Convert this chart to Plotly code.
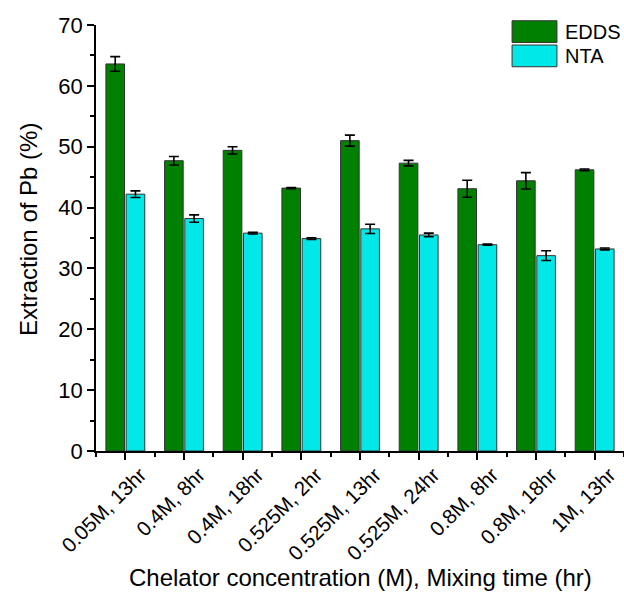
import plotly.graph_objects as go

categories = ["0.05M, 13hr", "0.4M, 8hr", "0.4M, 18hr", "0.525M, 2hr", "0.525M, 13hr",
              "0.525M, 24hr", "0.8M, 8hr", "0.8M, 18hr", "1M, 13hr"]
edds = [63.6, 47.7, 49.4, 43.2, 51.0, 47.3, 43.1, 44.4, 46.2]
edds_err = [1.2, 0.7, 0.6, 0.1, 0.9, 0.45, 1.4, 1.35, 0.15]
nta = [42.2, 38.2, 35.8, 34.9, 36.5, 35.5, 33.9, 32.1, 33.2]
nta_err = [0.55, 0.6, 0.15, 0.15, 0.75, 0.3, 0.1, 0.8, 0.15]
y_ticks = [0, 10, 20, 30, 40, 50, 60, 70]

idx = list(range(len(categories)))
FONT = "Liberation Sans, Arial, sans-serif"
GREEN = "#008000"
CYAN = "#00E8E8"

fig = go.Figure()
fig.add_trace(go.Bar(
    x=idx, y=edds, name="EDDS", marker=dict(color=GREEN, line=dict(color="#333333", width=1)),
    error_y=dict(type="data", array=edds_err, visible=True, color="black", thickness=1.6, width=5),
    showlegend=False))
fig.add_trace(go.Bar(
    x=idx, y=nta, name="NTA", marker=dict(color=CYAN, line=dict(color="#333333", width=1)),
    error_y=dict(type="data", array=nta_err, visible=True, color="black", thickness=1.6, width=5),
    showlegend=False))

# legend drawn as swatches + text
legend_items = [("EDDS", GREEN, 1.010, 0.959), ("NTA", CYAN, 0.953, 0.902)]
for name, col, y1, y0 in legend_items:
    fig.add_shape(type="rect", xref="paper", yref="paper", x0=0.788, x1=0.873, y0=y0, y1=y1,
                  fillcolor=col, line=dict(color="#333333", width=1))
    fig.add_annotation(xref="paper", yref="paper", x=0.884, y=(y0 + y1) / 2, text=name,
                       showarrow=False, xanchor="left", yanchor="middle",
                       font=dict(family=FONT, size=20, color="black"))

# axis titles
fig.add_annotation(xref="paper", yref="paper", x=0.5, y=-0.298, xshift=0,
                   text="Chelator concentration (M), Mixing time (hr)", showarrow=False,
                   xanchor="center", yanchor="middle", font=dict(family=FONT, size=24, color="black"))
fig.add_annotation(xref="paper", yref="paper", x=0, y=0.5, xshift=-68, yshift=8,
                   text="Extraction of Pb (%)", showarrow=False, textangle=-90,
                   xanchor="center", yanchor="middle", font=dict(family=FONT, size=24, color="black"))

fig.update_layout(
    width=624, height=592,
    margin=dict(l=96, r=0, t=25, b=141),
    paper_bgcolor="white", plot_bgcolor="white",
    barmode="group", bargap=0.31, bargroupgap=0.08,
    font=dict(family=FONT, color="black"),
    xaxis=dict(range=[-0.5, 8.5], tickmode="array", tickvals=idx, ticktext=categories,
               tickangle=-45, ticks="outside", ticklen=7, tickwidth=1.5, tickcolor="black",
               tickfont=dict(size=20.5, family=FONT), ticklabelshift=15, ticklabelstandoff=-5,
               minor=dict(ticks="outside", ticklen=4, tickwidth=1.5, tickcolor="black",
                          tick0=0.5, dtick=1),
               showline=True, linecolor="black", linewidth=1.5, showgrid=False, zeroline=False),
    yaxis=dict(range=[0, 70], tickmode="array", tickvals=y_ticks,
               ticks="outside", ticklen=7, tickwidth=1.5, tickcolor="black",
               tickfont=dict(size=22, family=FONT),
               minor=dict(ticks="outside", ticklen=4, tickwidth=1.5, tickcolor="black",
                          tick0=0, dtick=5),
               showline=True, linecolor="black", linewidth=1.5, showgrid=False, zeroline=False),
)

fig.write_html("out.html", config={"displayModeBar": False},
               post_script="document.body.style.margin='0px';")
